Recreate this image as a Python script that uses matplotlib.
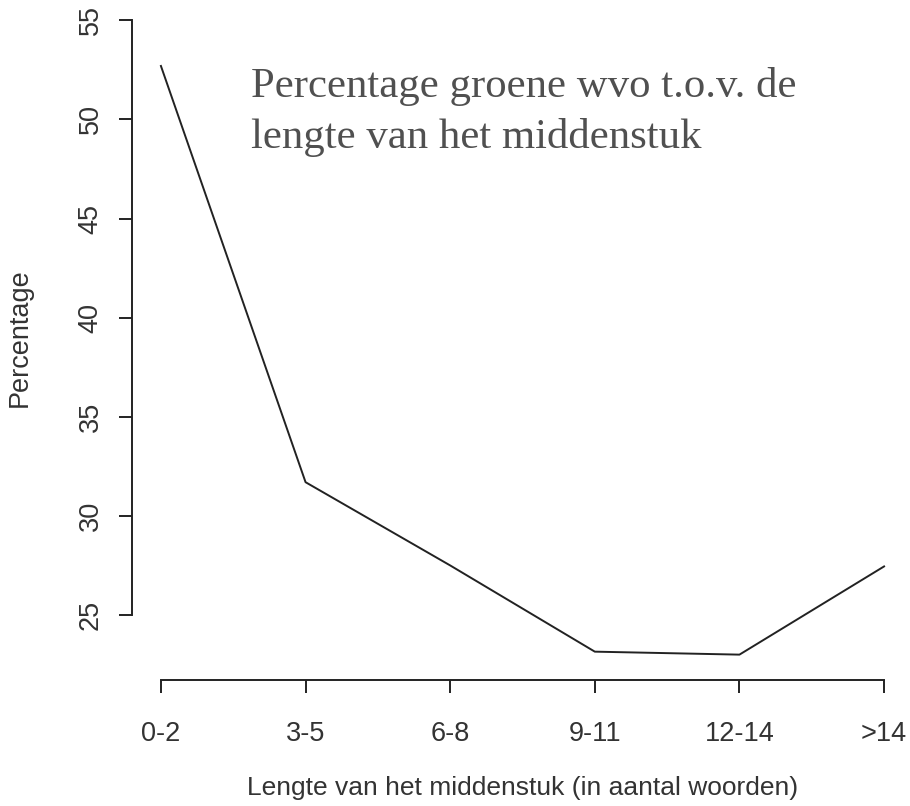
import matplotlib
matplotlib.use("Agg")
import matplotlib.pyplot as plt

# lengte van het middenstuk (categorieen) en percentage groene wvo
categories = ["0-2", "3-5", "6-8", "9-11", "12-14", ">14"]
percentages = [52.7, 31.7, 27.5, 23.15, 23.0, 27.45]
y_ticks = [25, 30, 35, 40, 45, 50, 55]

plt.rcParams['font.family'] = ['Liberation Sans', 'DejaVu Sans']

W, H = 910, 806
fig = plt.figure(figsize=(W / 100, H / 100), dpi=100)
# plot region as R would lay it out (right/top edge run off the image)
ax = fig.add_axes([132 / W, 126 / H, 781 / W, 685 / H])

x = list(range(len(categories)))
ax.plot(x, percentages, color='#222222', lw=1.4)

ax.set_xlim(-0.2, 5.2)
ax.set_ylim(21.72, 56.28)

ax.set_xticks(x)
ax.set_xticklabels(categories)
ax.set_yticks(y_ticks)
ax.set_yticklabels([str(v) for v in y_ticks], rotation=90, va='center')

for s in ['top', 'right']:
    ax.spines[s].set_visible(False)
ax.spines['left'].set_bounds(y_ticks[0], y_ticks[-1])
ax.spines['bottom'].set_bounds(x[0], x[-1])
for s in ['left', 'bottom']:
    ax.spines[s].set_linewidth(1.4)
    ax.spines[s].set_color('#222222')

ax.tick_params(axis='both', direction='out', length=9.5, width=1.4,
               color='#222222', labelsize=19.5, labelcolor='#333333')
ax.tick_params(axis='x', pad=20)
ax.tick_params(axis='y', pad=11)

ax.set_xlabel("Lengte van het middenstuk (in aantal woorden)",
              fontsize=19, color='#333333', labelpad=21)
ax.set_ylabel("Percentage", fontsize=19.5, color='#333333', labelpad=32)

# title block in serif, placed like the pasted text in the original
fig.text(251 / W, 1 - 97 / H, "Percentage groene wvo t.o.v. de",
         family='Liberation Serif', fontsize=30.8, color='#505050',
         va='baseline', ha='left')
fig.text(251 / W, 1 - 148 / H, "lengte van het middenstuk",
         family='Liberation Serif', fontsize=30.8, color='#505050',
         va='baseline', ha='left')

fig.savefig("out.png", dpi=100)
